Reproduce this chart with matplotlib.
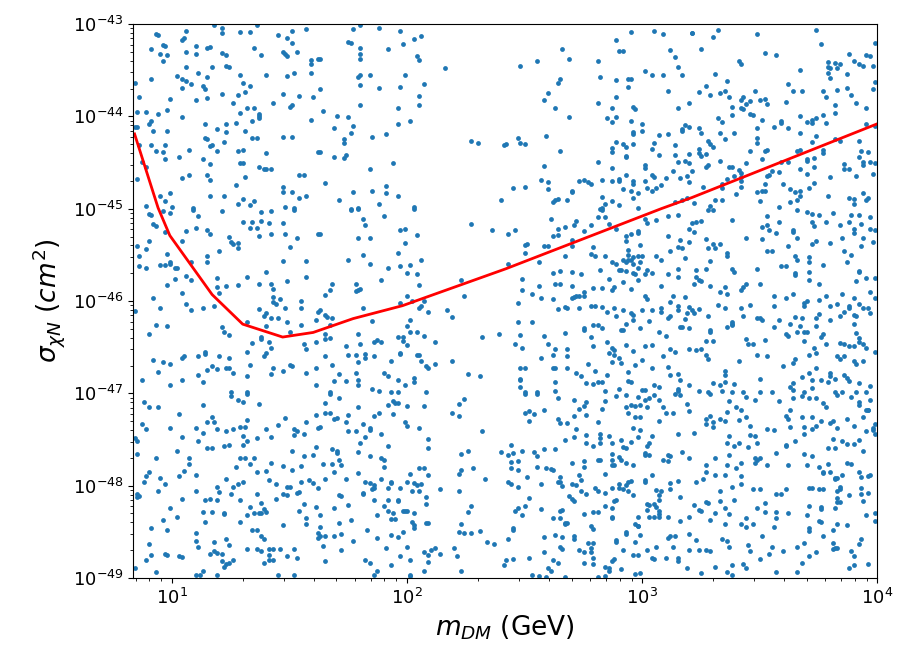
import numpy as np
import matplotlib
matplotlib.use("Agg")
import matplotlib.pyplot as plt

# exclusion curve, log10(m / GeV) and log10(sigma / cm^2)
curve_logm = [0.84, 0.94, 0.99, 1.17, 1.30, 1.47, 1.60, 1.77, 1.98, 2.42, 3.08, 3.21, 4.00]
curve_logs = [-44.19, -44.99, -45.29, -45.93, -46.25, -46.39, -46.34, -46.19, -46.05, -45.65, -45.00, -44.88, -44.08]

# scan points (log10 m, log10 sigma)
pts_top_left = [
    (0.93,-43.11),(0.94,-43.12),(1.06,-43.08),(1.18,-43.01),(1.21,-43.04),(1.21,-43.10),(1.05,-43.15),(1.04,-43.17),
    (1.29,-43.09),(1.33,-43.09),(1.36,-43.01),(1.45,-43.12),(1.51,-43.08),(1.49,-43.15),(1.51,-43.20),(1.57,-43.05),
    (0.91,-43.27),(0.96,-43.23),(0.97,-43.24),(0.95,-43.32),(0.98,-43.33),(0.96,-43.40),(1.06,-43.30),(1.10,-43.24),
    (1.10,-43.32),(1.15,-43.26),(1.16,-43.25),(1.21,-43.31),(1.23,-43.33),(1.35,-43.26),(1.38,-43.33),(1.47,-43.30),
    (1.48,-43.32),(1.49,-43.35),(1.53,-43.30),(1.59,-43.39),(1.59,-43.43),(1.62,-43.38),(1.06,-43.46),(1.17,-43.47),
    (1.23,-43.45),(1.24,-43.47),(1.02,-43.56),(1.04,-43.60),(1.06,-43.62),(1.04,-43.69),(1.08,-43.65),(1.11,-43.53),
    (1.13,-43.67),(1.14,-43.70),(1.15,-43.57),(1.29,-43.55),(1.30,-43.64),(1.33,-43.67),(1.31,-43.74),(1.28,-43.77),
    (1.21,-43.76),(1.15,-43.80),(1.10,-43.82),(0.99,-43.81),(0.86,-43.79),(0.91,-43.60),(1.40,-43.55),(1.49,-43.56),
    (1.52,-43.53),(1.59,-43.53),(0.84,-43.64),(1.47,-43.76),(1.54,-43.78),(1.60,-43.79),(1.43,-43.85),(1.50,-43.90),
    (1.51,-43.88),(1.26,-43.86),(1.32,-43.91),(1.35,-43.91),(1.29,-43.96),(1.37,-43.97),(1.37,-44.00),(0.85,-43.95),
    (0.89,-43.95),(0.94,-43.97),(0.98,-43.93),(1.04,-44.01),(0.84,-44.12),(0.85,-44.12),(0.90,-44.08),(0.91,-44.05),
    (0.92,-44.16),(0.98,-44.16),(1.14,-44.08),(1.19,-44.14),(1.23,-44.08),(1.23,-44.17),(1.27,-44.07),(1.34,-44.05),
    (1.37,-44.02),(1.31,-44.16),(1.34,-44.23),(1.36,-44.23),(1.47,-44.22),(1.51,-44.22),(1.59,-44.04),(1.14,-44.23),
    (1.15,-44.25),(1.17,-44.31),(1.16,-44.32),(1.22,-44.28),(0.86,-44.31),(0.91,-44.31),(0.97,-44.31),(0.93,-44.38),
    (0.96,-44.39),(0.97,-44.46),(0.87,-44.49),(0.89,-44.55),(0.85,-44.68),(1.03,-44.44),(1.07,-44.36),(1.13,-44.46),
    (1.19,-44.38),(1.28,-44.37),(1.30,-44.36),(1.40,-44.40),(1.16,-44.52),(1.29,-44.51),(1.30,-44.51),(1.37,-44.55),
    (1.39,-44.57),(1.40,-44.57),(1.42,-44.57),(1.15,-44.64),(1.16,-44.69),(1.07,-44.64),(1.04,-44.67),(1.31,-44.66),
    (1.54,-44.64),(1.56,-44.63),(1.27,-44.74),(1.47,-44.77),(1.47,-44.82),(1.51,-44.82),(1.54,-44.88),(1.57,-44.86),
    (1.62,-44.39),(0.95,-44.86),(0.97,-44.92),(0.99,-44.83),(0.89,-44.97),(1.00,-44.98),(1.09,-44.99),(1.16,-44.86),
    (1.22,-44.86),(1.28,-44.95),(1.30,-44.89),(1.33,-44.96),(1.35,-44.92),(1.48,-44.98),(1.52,-44.99),
]

pts_top_mid = [
    (1.77,-43.05),(1.80,-43.01),(1.88,-43.04),(1.97,-43.08),(1.75,-43.19),(1.76,-43.20),(1.80,-43.26),(1.92,-43.27),
    (1.98,-43.22),(2.03,-43.16),(2.06,-43.13),(1.80,-43.32),(1.80,-43.38),(2.04,-43.35),(2.05,-43.39),(1.63,-43.38),
    (2.16,-43.48),(1.79,-43.57),(1.80,-43.55),(1.84,-43.55),(1.99,-43.55),(1.80,-43.66),(1.88,-43.69),(1.97,-43.68),
    (2.07,-43.65),(1.63,-43.70),(2.05,-43.78),(2.05,-43.88),(1.80,-43.88),(1.96,-43.91),(1.64,-43.94),(1.70,-44.00),
    (1.75,-44.01),(1.77,-44.10),(1.69,-44.13),(1.76,-44.18),(1.96,-44.08),(2.01,-44.05),(1.85,-44.22),(1.91,-44.19),
    (1.73,-44.25),(1.73,-44.29),(1.63,-44.39),(1.69,-44.44),(1.74,-44.42),(1.73,-44.45),(2.27,-44.27),(2.30,-44.29),
    (2.41,-44.31),(1.94,-44.51),(1.84,-44.57),(1.65,-44.72),(1.77,-44.82),(1.85,-44.81),(1.91,-44.75),(1.91,-44.83),
    (1.96,-44.86),(1.71,-44.91),(1.88,-44.95),(1.76,-45.00),(1.79,-44.99),(2.03,-44.98),(2.40,-44.91),
]

pts_top_right = [
    (2.95,-43.09),(3.05,-43.07),(3.09,-43.11),(3.21,-43.10),(2.89,-43.17),(2.90,-43.29),(2.92,-43.29),(2.66,-43.27),
    (2.69,-43.38),(2.81,-43.40),(2.48,-43.45),(2.55,-43.40),(3.12,-43.28),(3.14,-43.36),(3.15,-43.47),(3.01,-43.51),
    (3.04,-43.55),(3.09,-43.55),(3.17,-43.55),(2.82,-43.57),(2.89,-43.61),(2.94,-43.59),(2.95,-43.60),(2.94,-43.68),
    (2.65,-43.60),(2.64,-43.64),(2.60,-43.75),(2.58,-43.82),(2.63,-43.91),(2.69,-44.01),(3.11,-43.73),(2.89,-43.79),
    (2.81,-43.86),(2.87,-43.91),(2.96,-43.90),(2.97,-43.92),(3.15,-43.91),(3.20,-43.86),(2.85,-44.02),(2.87,-44.06),
    (2.89,-44.01),(2.95,-44.05),(3.00,-44.08),(3.00,-44.16),(2.96,-44.17),(2.96,-44.19),(3.07,-44.20),(3.11,-44.19),
    (3.17,-44.14),(3.17,-44.16),(3.18,-44.09),(3.20,-44.11),(2.47,-44.23),(2.48,-44.29),(2.50,-44.30),(2.42,-44.30),
    (2.59,-44.21),(2.65,-44.37),(2.89,-44.28),(2.92,-44.30),(2.93,-44.33),(2.96,-44.30),(2.87,-44.34),(2.87,-44.39),
    (3.04,-44.35),(3.05,-44.29),(3.07,-44.42),(3.14,-44.31),(3.14,-44.42),(3.15,-44.49),(3.18,-44.48),(3.20,-44.41),
    (2.93,-44.43),(2.93,-44.44),(2.81,-44.49),(2.87,-44.56),(3.01,-44.53),(3.01,-44.56),(3.13,-44.59),(3.20,-44.50),
    (2.58,-44.54),(2.57,-44.69),(2.60,-44.71),(2.60,-44.79),(2.45,-44.78),(2.50,-44.77),(2.73,-44.70),(2.75,-44.69),
    (2.77,-44.71),(2.78,-44.73),(2.83,-44.69),(2.87,-44.70),(2.90,-44.68),(2.90,-44.70),(2.93,-44.63),(2.96,-44.70),
    (2.96,-44.73),(3.01,-44.70),(3.04,-44.64),(3.05,-44.66),(3.08,-44.74),(3.10,-44.67),(3.16,-44.67),(3.19,-44.65),
    (3.20,-44.71),(2.92,-44.79),(2.95,-44.81),(2.98,-44.83),(3.02,-44.78),(3.04,-44.81),(3.06,-44.78),(2.96,-44.88),
    (2.83,-44.87),(2.70,-44.81),(2.70,-44.82),(2.62,-44.93),(2.63,-44.91),(2.64,-44.90),(2.68,-44.91),(2.84,-44.95),
    (2.87,-44.92),(2.90,-44.96),(2.98,-44.99),(3.14,-44.93),(3.17,-44.91),(3.19,-44.88),(2.83,-44.99),(2.82,-45.00),
    (3.21,-43.10),(3.32,-43.06),(3.30,-43.14),(3.49,-43.11),(3.74,-43.06),(3.76,-43.22),(3.25,-43.27),(3.52,-43.31),
    (3.57,-43.33),(3.41,-43.40),(3.42,-43.43),(3.31,-43.54),(3.67,-43.50),(3.79,-43.41),(3.82,-43.42),(3.84,-43.43),
    (3.88,-43.32),(3.90,-43.40),(3.92,-43.43),(3.94,-43.45),(3.95,-43.34),(3.97,-43.35),(3.98,-43.45),(3.99,-43.20),
    (3.79,-43.47),(3.80,-43.48),(3.83,-43.48),(3.80,-43.58),(3.87,-43.54),(3.79,-43.53),(3.36,-43.62),(3.27,-43.67),
    (3.24,-43.74),(3.29,-43.77),(3.33,-43.75),(3.35,-43.72),(3.37,-43.79),(3.43,-43.79),(3.42,-43.82),(3.44,-43.87),
    (3.46,-43.83),(3.48,-43.72),(3.50,-43.82),(3.52,-43.81),(3.53,-43.87),(3.42,-43.91),(3.43,-43.92),(3.38,-43.90),
    (3.38,-43.98),(3.32,-44.02),(3.34,-44.06),(3.46,-43.97),(3.47,-43.99),(3.51,-44.04),(3.62,-43.65),(3.64,-43.73),
    (3.61,-43.84),(3.68,-43.73),(3.77,-43.73),(3.78,-43.79),(3.83,-43.71),(3.87,-43.69),(3.89,-43.77),(3.91,-43.85),
    (3.95,-43.91),(3.98,-43.70),(3.99,-43.63),(3.82,-43.88),(3.82,-43.96),(3.77,-43.98),(3.78,-44.07),(3.74,-44.02),
    (3.67,-44.00),(3.70,-44.06),(3.72,-44.07),(3.72,-44.04),(3.59,-44.07),(3.59,-44.05),(3.56,-44.11),(3.62,-44.13),
    (3.67,-44.18),(3.72,-44.28),(3.74,-44.21),(3.82,-44.25),(3.84,-44.27),(3.92,-44.27),(3.93,-44.37),(3.95,-44.08),
    (3.99,-44.10),(3.24,-44.13),(3.25,-44.18),(3.33,-44.18),(3.35,-44.25),(3.39,-44.18),(3.49,-44.13),(3.49,-44.23),
    (3.49,-44.29),(3.28,-44.27),(3.29,-44.30),(3.30,-44.33),(3.24,-44.35),(3.24,-44.40),(3.25,-44.43),(3.27,-44.41),
    (3.21,-44.59),(3.27,-44.55),(3.28,-44.53),(3.33,-44.48),(3.37,-44.55),(3.38,-44.55),(3.41,-44.58),(3.42,-44.61),
    (3.42,-44.66),(3.44,-44.50),(3.46,-44.38),(3.51,-44.46),(3.52,-44.37),(3.53,-44.36),(3.55,-44.59),(3.53,-44.65),
    (3.59,-44.49),(3.58,-44.60),(3.62,-44.49),(3.66,-44.38),(3.67,-44.36),(3.70,-44.48),(3.70,-44.46),(3.67,-44.57),
    (3.70,-44.62),(3.73,-44.55),(3.73,-44.45),(3.77,-44.40),(3.77,-44.36),(3.80,-44.66),(3.86,-44.52),(3.86,-44.57),
    (3.88,-44.57),(3.91,-44.65),(3.92,-44.44),(3.94,-44.49),(3.94,-44.53),(3.96,-44.39),(3.97,-44.49),(3.98,-44.62),
    (3.99,-44.51),(3.26,-44.76),(3.34,-44.73),(3.34,-44.78),(3.36,-44.68),(3.39,-44.65),(3.42,-44.70),(3.42,-44.77),
    (3.40,-44.84),(3.49,-44.82),(3.51,-44.81),(3.52,-44.81),(3.52,-44.73),(3.54,-44.64),(3.60,-44.73),(3.63,-44.79),
    (3.65,-44.82),(3.67,-44.81),(3.67,-44.86),(3.66,-44.91),(3.71,-44.78),(3.73,-44.72),(3.79,-44.86),(3.88,-44.88),
    (3.90,-44.95),(3.94,-44.83),(3.95,-44.91),(3.96,-44.88),(3.90,-44.89),(3.31,-44.91),(3.34,-44.91),(3.50,-44.92),
    (3.63,-44.93),(3.58,-44.98),(3.29,-44.97),(3.22,-44.94),
]

pts_mid_left = [
    (0.90,-45.06),(0.91,-45.07),(0.96,-45.02),(0.99,-45.05),(1.09,-45.01),(1.11,-45.08),(1.21,-45.03),(1.30,-45.14),
    (1.34,-45.14),(1.38,-45.13),(1.38,-45.04),(1.42,-45.03),(1.52,-45.01),(1.33,-45.21),(1.36,-45.21),(1.41,-45.16),
    (1.42,-45.27),(1.47,-45.16),(1.48,-45.27),(1.53,-45.32),(1.62,-45.27),(0.92,-45.17),(0.93,-45.19),(0.97,-45.25),
    (1.06,-45.24),(1.10,-45.21),(1.15,-45.23),(1.16,-45.27),(1.24,-45.31),(1.25,-45.36),(1.26,-45.38),(1.28,-45.37),
    (1.28,-45.43),(1.37,-45.30),(1.50,-45.41),(0.85,-45.40),(0.90,-45.35),(0.89,-45.44),(1.04,-45.35),(1.20,-45.46),
    (0.86,-45.51),(0.98,-45.49),(1.15,-45.51),(1.15,-45.58),(0.95,-45.61),(0.97,-45.61),(0.99,-45.58),(0.99,-45.60),
    (1.01,-45.64),(1.02,-45.64),(0.86,-45.62),(0.89,-45.64),(1.08,-45.58),(1.47,-45.57),(1.57,-45.57),(1.40,-45.68),
    (1.32,-45.74),(1.06,-45.73),(1.08,-45.77),(1.01,-45.76),(0.98,-45.83),(1.19,-45.75),(1.19,-45.85),(1.20,-45.91),
    (1.23,-45.84),(1.28,-45.83),(1.37,-45.82),(1.42,-45.82),(1.43,-45.87),(1.49,-45.78),(1.57,-45.74),(1.04,-45.91),
    (0.92,-45.97),(0.95,-46.07),(1.06,-46.03),(1.08,-46.10),(1.13,-46.08),(1.18,-46.05),(1.43,-45.96),(1.43,-46.01),
    (1.44,-46.03),(1.46,-45.98),(1.48,-46.08),(1.55,-46.00),(1.55,-46.08),(1.37,-46.09),(1.39,-46.16),(1.40,-46.13),
    (1.42,-46.18),(1.45,-46.18),(0.84,-46.11),(0.93,-46.26),(0.98,-46.27),(0.90,-46.36),(1.21,-46.28),(1.22,-46.33),
    (1.24,-46.37),(1.32,-46.23),(1.40,-46.27),(1.49,-46.23),(1.50,-46.33),(1.55,-46.26),(1.61,-46.20),(1.62,-46.12),
    (1.38,-46.39),(1.38,-46.41),(1.34,-46.45),(1.41,-46.44),(1.42,-46.51),(1.40,-46.56),(1.39,-46.59),(1.56,-46.47),
    (1.57,-46.52),(1.61,-46.44),(1.32,-46.55),(1.33,-46.69),(0.92,-46.64),(0.96,-46.66),(0.99,-46.68),(1.04,-46.62),
    (1.05,-46.60),(1.11,-46.60),(1.14,-46.55),(1.14,-46.57),(1.20,-46.60),(1.24,-46.62),(1.17,-46.70),(1.19,-46.74),
    (1.23,-46.72),(1.24,-46.73),(1.26,-46.78),(1.15,-46.75),(1.11,-46.80),(0.94,-46.77),(0.87,-46.85),(1.04,-46.86),
    (1.13,-46.88),(0.99,-46.91),(1.32,-46.81),(1.42,-46.79),(1.43,-46.73),(1.47,-46.76),(1.50,-46.69),(1.51,-46.70),
    (1.57,-46.78),(1.61,-46.73),(1.61,-46.91),(1.25,-46.99),(1.32,-46.99),
    (1.76,-45.01),(1.79,-45.00),(1.90,-45.08),(2.03,-45.00),(1.81,-45.11),(1.82,-45.18),(1.97,-45.23),(1.99,-45.22),
    (2.04,-45.28),(1.79,-45.32),(1.84,-45.32),(1.99,-45.37),(1.63,-45.27),(1.96,-45.48),(1.81,-45.50),(1.75,-45.56),
    (1.84,-45.60),(1.92,-45.64),(1.97,-45.62),(2.01,-45.61),(2.06,-45.56),(2.00,-45.70),(2.04,-45.71),(1.89,-45.77),
    (2.05,-45.83),(2.27,-45.17),(2.36,-45.23),(2.23,-45.77),(2.24,-45.95),(1.78,-45.81),(1.68,-45.82),(1.67,-45.88),
    (1.65,-45.93),(1.78,-45.89),(1.79,-45.88),(1.80,-45.87),(1.97,-46.02),(2.00,-45.95),(2.02,-46.00),(2.05,-46.08),
    (2.06,-46.05),(2.07,-46.00),(1.81,-46.07),(1.65,-46.15),(1.66,-46.17),(1.68,-46.18),(1.67,-46.26),(1.63,-46.10),
    (1.85,-46.22),(2.01,-46.20),(2.09,-46.12),(2.17,-46.10),(2.19,-46.17),(2.00,-46.27),(2.01,-46.34),(2.04,-46.33),
    (1.65,-46.36),(1.65,-46.41),(1.67,-46.40),(1.79,-46.36),(1.96,-46.39),(1.98,-46.39),(1.98,-46.43),(2.00,-46.48),
    (2.07,-46.38),(2.12,-46.44),(1.86,-46.44),(1.87,-46.42),(1.89,-46.44),(1.80,-46.46),(1.74,-46.49),(1.65,-46.60),
    (1.75,-46.58),(1.78,-46.58),(1.82,-46.57),(1.82,-46.62),(1.79,-46.66),(1.86,-46.60),(1.93,-46.65),(1.97,-46.56),
    (1.97,-46.57),(2.04,-46.58),(2.05,-46.58),(2.06,-46.65),(2.08,-46.70),(2.09,-46.73),(2.12,-46.68),(2.19,-46.65),
    (1.68,-46.69),(1.71,-46.79),(1.69,-46.87),(1.74,-46.87),(1.78,-46.78),(1.79,-46.85),(1.79,-46.91),(1.90,-46.78),
    (1.92,-46.81),(1.96,-46.86),(1.99,-46.91),(2.03,-46.83),(2.03,-46.88),(1.85,-46.95),(1.88,-46.97),(1.93,-46.99),
    (1.96,-46.99),(1.67,-46.99),(2.26,-46.79),(2.31,-46.81),(2.32,-46.39),(2.39,-46.36),(2.08,-46.99),
]

pts_mid_right = [
    (2.83,-45.01),(2.81,-45.09),(2.84,-45.09),(2.72,-45.13),(2.71,-45.18),(2.64,-45.22),(2.67,-45.20),(2.75,-45.24),
    (2.78,-45.18),(2.86,-45.17),(2.61,-45.11),(2.43,-45.27),(2.46,-45.23),(2.50,-45.39),(2.51,-45.38),(2.50,-45.48),
    (2.58,-45.40),(2.60,-45.40),(2.62,-45.30),(2.64,-45.28),(2.70,-45.34),(2.70,-45.40),(2.67,-45.51),(2.79,-45.41),
    (2.78,-45.49),(2.80,-45.51),(2.84,-45.51),(2.89,-45.22),(2.93,-45.30),(2.93,-45.35),(2.95,-45.27),(2.98,-45.24),
    (2.98,-45.26),(2.99,-45.39),(3.01,-45.11),(3.02,-45.15),(3.06,-45.12),(3.11,-45.08),(3.15,-45.07),(3.20,-45.22),
    (3.11,-45.30),(3.16,-45.34),(3.15,-45.41),(3.17,-45.43),(3.20,-45.36),(2.94,-45.45),(2.94,-45.50),(2.96,-45.52),
    (2.98,-45.51),(3.00,-45.51),(2.92,-45.56),(2.93,-45.58),(2.94,-45.56),(2.95,-45.55),(2.96,-45.60),(2.98,-45.64),
    (2.99,-45.58),(2.87,-45.58),(2.89,-45.60),(2.90,-45.66),(2.91,-45.66),(2.93,-45.67),(2.96,-45.70),(2.97,-45.71),
    (3.02,-45.66),(3.06,-45.51),(3.08,-45.56),(3.12,-45.46),(3.18,-45.53),(2.56,-45.58),(2.43,-45.60),(2.62,-45.70),
    (2.65,-45.67),(2.70,-45.69),(2.74,-45.71),(2.82,-45.66),(2.86,-45.76),(2.92,-45.79),(2.88,-45.85),(2.87,-45.88),
    (2.83,-45.86),(2.79,-45.86),(2.75,-45.90),(2.72,-45.94),(2.73,-45.94),(2.75,-45.95),(2.70,-45.97),(2.71,-45.96),
    (2.70,-45.84),(2.65,-45.82),(2.63,-45.81),(2.56,-45.84),(2.53,-45.92),(2.49,-45.88),(2.49,-45.76),(2.47,-46.02),
    (2.57,-45.97),(2.62,-45.98),(2.67,-46.06),(2.68,-46.08),(2.73,-46.07),(2.78,-46.05),(2.80,-46.05),(2.83,-46.06),
    (2.85,-46.12),(2.88,-46.08),(2.89,-46.16),(2.92,-46.10),(2.95,-46.13),(2.96,-46.15),(2.95,-45.87),(2.98,-45.77),
    (3.01,-45.71),(3.04,-45.70),(3.01,-45.95),(3.02,-45.98),(3.08,-45.84),(3.11,-45.71),(3.15,-45.65),(3.15,-45.74),
    (3.13,-45.95),(3.15,-46.05),(3.15,-46.10),(3.18,-45.96),(3.20,-46.06),(3.19,-46.13),(3.12,-46.01),(3.08,-46.07),
    (3.08,-46.12),(3.04,-46.10),(3.00,-46.10),(2.96,-46.20),(2.93,-46.25),(2.91,-46.31),(2.92,-46.31),(2.99,-46.29),
    (3.03,-46.22),(3.11,-46.18),(3.12,-46.16),(3.16,-46.28),(3.17,-46.28),(3.18,-46.19),(3.20,-46.29),(3.07,-46.34),
    (3.10,-46.38),(2.47,-46.23),(2.53,-46.23),(2.48,-46.37),(2.58,-46.38),(2.46,-46.47),(2.49,-46.51),(2.60,-46.46),
    (2.63,-46.52),(2.64,-46.09),(2.67,-46.35),(2.68,-46.52),(2.68,-46.59),(2.62,-46.58),(2.79,-46.26),(2.81,-46.26),
    (2.83,-46.29),(2.78,-46.39),(2.75,-46.29),(2.75,-46.31),(2.79,-46.49),(2.85,-46.44),(2.87,-46.51),(2.88,-46.53),
    (2.86,-46.56),(2.88,-46.58),(2.90,-46.62),(2.93,-46.48),(2.96,-46.54),(3.01,-46.49),(3.04,-46.48),(3.09,-46.59),
    (3.12,-46.52),(3.14,-46.55),(3.20,-46.52),(2.57,-46.62),(2.62,-46.73),(2.63,-46.72),(2.68,-46.72),(2.72,-46.78),
    (2.74,-46.81),(2.77,-46.68),(2.80,-46.76),(2.85,-46.80),(2.87,-46.66),(2.91,-46.67),(2.94,-46.77),(2.97,-46.69),
    (3.00,-46.64),(3.04,-46.73),(3.11,-46.71),(3.12,-46.80),(3.15,-46.79),(3.16,-46.85),(3.20,-46.91),(2.48,-46.73),
    (2.50,-46.72),(2.48,-46.84),(2.48,-46.86),(2.48,-46.93),(2.63,-46.88),(2.76,-46.89),(2.79,-46.90),(2.81,-46.88),
    (2.83,-46.88),(2.84,-46.97),(2.90,-46.95),(2.94,-46.87),(2.95,-46.88),(3.00,-46.96),(3.01,-46.96),(3.05,-46.91),
    (3.07,-46.93),(3.15,-46.95),(3.15,-46.97),(2.63,-46.97),(2.55,-46.99),(2.50,-46.99),
    (3.21,-45.16),(3.23,-45.14),(3.25,-45.13),(3.22,-45.25),(3.28,-45.01),(3.30,-45.01),(3.38,-45.12),(3.53,-45.08),
    (3.51,-45.20),(3.53,-45.18),(3.54,-45.23),(3.57,-45.26),(3.58,-45.14),(3.64,-45.25),(3.64,-45.23),(3.66,-45.01),
    (3.70,-45.04),(3.72,-45.06),(3.75,-45.07),(3.72,-45.14),(3.73,-45.19),(3.78,-45.14),(3.81,-45.05),(3.84,-45.18),
    (3.89,-45.07),(3.92,-45.07),(3.88,-45.14),(3.93,-45.17),(3.90,-45.22),(3.90,-45.26),(3.94,-45.32),(3.97,-45.09),
    (3.97,-45.22),(3.99,-45.23),(3.98,-45.36),(3.27,-45.33),(3.30,-45.38),(3.33,-45.38),(3.31,-45.42),(3.28,-45.43),
    (3.44,-45.32),(3.51,-45.33),(3.55,-45.46),(3.53,-45.46),(3.62,-45.40),(3.66,-45.32),(3.74,-45.35),(3.72,-45.38),
    (3.80,-45.37),(3.85,-45.32),(3.93,-45.40),(3.36,-45.48),(3.36,-45.51),(3.29,-45.57),(3.23,-45.66),(3.27,-45.65),
    (3.38,-45.65),(3.39,-45.69),(3.49,-45.65),(3.59,-45.62),(3.61,-45.62),(3.65,-45.51),(3.66,-45.56),(3.71,-45.52),
    (3.71,-45.58),(3.71,-45.69),(3.71,-45.77),(3.65,-45.70),(3.65,-45.72),(3.77,-45.61),(3.86,-45.46),(3.89,-45.50),
    (3.87,-45.58),(3.92,-45.67),(3.92,-45.69),(3.95,-45.75),(3.99,-45.75),(3.23,-45.74),(3.24,-45.77),(3.25,-45.78),
    (3.22,-45.81),(3.29,-45.84),(3.33,-45.90),(3.35,-45.85),(3.36,-45.92),(3.42,-45.88),(3.44,-45.82),(3.43,-45.85),
    (3.50,-45.81),(3.56,-45.94),(3.56,-46.05),(3.61,-45.97),(3.64,-45.92),(3.69,-46.05),(3.69,-46.02),(3.70,-46.00),
    (3.75,-45.99),(3.78,-45.95),(3.75,-45.82),(3.85,-45.92),(3.91,-45.78),(3.97,-45.90),(3.99,-45.97),(3.83,-46.03),
    (3.80,-46.05),(3.88,-46.08),(3.88,-46.05),(3.90,-45.97),(3.92,-46.03),(3.94,-46.08),(3.96,-46.07),(3.97,-46.13),
    (3.90,-46.15),(3.91,-46.16),(3.32,-46.04),(3.35,-46.08),(3.21,-46.10),(3.22,-46.13),(3.24,-46.09),(3.28,-46.16),
    (3.38,-46.23),(3.38,-46.26),(3.42,-46.08),(3.43,-46.16),(3.46,-46.04),(3.49,-46.18),(3.50,-46.18),(3.51,-46.21),
    (3.56,-46.28),(3.58,-46.21),(3.61,-46.36),(3.62,-46.38),(3.63,-46.25),(3.65,-46.17),(3.68,-46.18),(3.67,-46.27),
    (3.66,-46.33),(3.69,-46.34),(3.70,-46.33),(3.74,-46.27),(3.74,-46.18),(3.75,-46.14),(3.80,-46.21),(3.84,-46.16),
    (3.86,-46.12),(3.90,-46.25),(3.91,-46.35),(3.92,-46.40),(3.92,-46.44),(3.86,-46.47),(3.88,-46.49),(3.84,-46.45),
    (3.90,-46.49),(3.94,-46.46),(3.95,-46.51),(3.99,-46.55),(3.76,-46.39),(3.77,-46.36),(3.78,-46.47),(3.69,-46.43),
    (3.73,-46.51),(3.74,-46.56),(3.71,-46.58),(3.29,-46.31),(3.29,-46.33),(3.36,-46.28),(3.38,-46.25),(3.27,-46.43),
    (3.30,-46.43),(3.23,-46.53),(3.25,-46.52),(3.27,-46.58),(3.28,-46.63),(3.44,-46.41),(3.45,-46.46),(3.47,-46.47),
    (3.52,-46.42),(3.49,-46.58),(3.53,-46.59),(3.60,-46.70),(3.64,-46.67),(3.65,-46.63),(3.83,-46.60),(3.84,-46.63),
    (3.86,-46.59),(3.90,-46.65),(3.91,-46.68),(3.94,-46.65),(3.41,-46.65),(3.35,-46.76),(3.35,-46.80),(3.30,-46.89),
    (3.33,-46.91),(3.35,-46.88),(3.39,-46.90),(3.50,-46.84),(3.63,-46.93),(3.64,-46.89),(3.68,-46.82),(3.71,-46.78),
    (3.72,-46.85),(3.74,-46.73),(3.76,-46.86),(3.80,-46.78),(3.80,-46.81),(3.79,-46.88),(3.82,-46.84),(3.86,-46.80),
    (3.87,-46.83),(3.88,-46.87),(3.92,-46.89),(3.97,-46.92),(3.24,-46.97),(3.28,-46.99),(3.34,-46.97),(3.38,-46.99),
    (3.43,-46.99),(3.50,-46.99),(3.55,-46.99),(3.64,-46.96),(3.69,-46.98),(3.72,-46.94),(3.82,-46.98),(3.85,-46.99),
    (3.91,-46.98),(3.95,-46.99),
]

pts_low_left = [
    (0.88,-47.09),(0.90,-47.15),(0.94,-47.15),(1.13,-47.13),(1.25,-47.03),(1.28,-47.07),(1.30,-47.09),(1.32,-47.01),
    (1.37,-47.11),(1.03,-47.22),(0.87,-47.33),(0.89,-47.39),(0.99,-47.38),(1.10,-47.38),(1.13,-47.43),(1.15,-47.31),
    (1.17,-47.26),(1.18,-47.31),(1.19,-47.39),(1.23,-47.41),(1.26,-47.39),(1.29,-47.36),(1.31,-47.36),(1.32,-47.29),
    (1.40,-47.39),(1.45,-47.34),(1.48,-47.27),(1.52,-47.39),(1.53,-47.41),(1.57,-47.31),(1.61,-47.23),(1.52,-47.45),
    (1.56,-47.44),(0.84,-47.48),(0.85,-47.52),(1.04,-47.47),(1.11,-47.52),(1.15,-47.59),(1.17,-47.59),(1.22,-47.57),
    (1.24,-47.56),(1.30,-47.46),(1.32,-47.52),(1.30,-47.56),(1.36,-47.48),(1.42,-47.47),(1.51,-47.62),(0.85,-47.66),
    (0.93,-47.70),(1.02,-47.62),(1.07,-47.70),(1.07,-47.76),(1.05,-47.84),(1.03,-47.89),(1.10,-47.88),(1.27,-47.80),
    (1.29,-47.70),(1.31,-47.70),(1.33,-47.76),(1.35,-47.70),(1.36,-47.85),(1.40,-47.84),(1.42,-47.75),(1.47,-47.79),
    (1.51,-47.83),(1.55,-47.79),(1.56,-47.68),(1.61,-47.58),(1.60,-47.67),(1.62,-47.37),(0.89,-47.90),(0.90,-47.85),
    (0.88,-47.96),(0.95,-47.92),(0.97,-47.98),(0.94,-48.06),(0.85,-48.09),(0.86,-48.11),(0.85,-48.12),(1.10,-48.06),
    (1.14,-48.15),(1.16,-48.14),(1.19,-48.01),(1.19,-48.15),(1.20,-48.07),(1.23,-47.93),(1.25,-48.09),(1.26,-48.01),
    (1.28,-47.98),(1.30,-47.96),(1.29,-48.15),(1.36,-48.09),(1.41,-47.94),(1.44,-47.98),(1.44,-48.14),(1.47,-48.09),
    (1.49,-48.01),(1.50,-48.01),(1.49,-48.10),(1.53,-48.08),(1.54,-48.07),(1.55,-47.96),(1.58,-47.94),(1.60,-47.97),
    (1.62,-48.02),(1.56,-48.20),(1.54,-48.27),(1.57,-48.35),(1.57,-48.41),(1.61,-48.23),(1.62,-48.51),(1.04,-48.14),
    (0.99,-48.24),(1.02,-48.34),(0.96,-48.37),(0.91,-48.46),(0.98,-48.48),(1.13,-48.28),(1.14,-48.39),(1.17,-48.29),
    (1.22,-48.30),(1.22,-48.31),(1.29,-48.39),(1.32,-48.32),(1.33,-48.23),(1.35,-48.30),(1.37,-48.30),(1.38,-48.19),
    (1.39,-48.25),(1.40,-48.28),(1.38,-48.30),(1.34,-48.48),(1.36,-48.48),(1.38,-48.54),(1.39,-48.58),(1.47,-48.43),
    (1.10,-48.51),(1.10,-48.60),(1.18,-48.61),(1.23,-48.58),(1.24,-48.64),(0.90,-48.63),(0.89,-48.81),(0.91,-48.75),
    (0.97,-48.74),(0.98,-48.75),(1.03,-48.76),(1.04,-48.77),(1.11,-48.66),(1.16,-48.74),(1.18,-48.71),(1.19,-48.73),
    (1.21,-48.74),(1.21,-48.82),(1.23,-48.85),(1.22,-48.88),(1.24,-48.84),(1.26,-48.80),(1.32,-48.69),(1.36,-48.69),
    (1.38,-48.71),(1.41,-48.69),(1.43,-48.69),(1.46,-48.69),(1.41,-48.75),(1.41,-48.81),(1.39,-48.84),(1.43,-48.81),
    (1.49,-48.76),(1.52,-48.69),(1.53,-48.78),(1.62,-48.57),(0.84,-48.89),(0.93,-48.94),(1.10,-48.97),(1.12,-48.97),
    (1.13,-48.92),(1.19,-48.97),(1.45,-48.97),(1.52,-48.97),
    (1.67,-47.01),(1.71,-47.05),(1.65,-47.10),(1.65,-47.21),(1.67,-47.21),(1.63,-47.36),(1.69,-47.28),(1.70,-47.27),
    (1.75,-47.23),(1.74,-47.31),(1.79,-47.15),(1.86,-47.25),(1.88,-47.21),(1.92,-47.13),(1.94,-47.22),(1.94,-47.08),
    (1.95,-47.10),(1.96,-47.10),(2.00,-47.14),(2.07,-47.14),(1.99,-47.31),(2.00,-47.35),(2.05,-47.38),(2.09,-47.49),
    (2.09,-47.59),(1.89,-47.44),(1.92,-47.57),(1.84,-47.40),(1.84,-47.37),(1.82,-47.47),(1.81,-47.33),(1.78,-47.41),
    (1.75,-47.41),(1.80,-47.54),(1.79,-47.64),(1.84,-47.68),(1.90,-47.72),(1.89,-47.70),(1.90,-47.80),(1.68,-47.60),
    (1.70,-47.62),(1.70,-47.65),(1.71,-47.72),(1.64,-47.76),(1.68,-47.77),(1.72,-47.78),(1.69,-47.85),(1.65,-47.93),
    (1.74,-47.93),(1.79,-47.86),(1.82,-47.96),(1.84,-47.97),(1.86,-47.99),(1.86,-48.03),(1.85,-48.04),(1.81,-48.08),
    (1.81,-48.09),(1.89,-47.93),(1.92,-48.02),(1.93,-47.96),(1.93,-47.97),(1.97,-48.02),(2.00,-47.96),(2.01,-47.87),
    (2.03,-47.97),(2.04,-47.99),(2.06,-47.98),(2.02,-48.06),(2.05,-48.06),(2.05,-47.81),(2.07,-47.81),(2.09,-47.88),
    (2.14,-48.04),(2.08,-48.12),(1.86,-48.16),(1.92,-48.16),(1.96,-48.16),(1.96,-48.17),(1.98,-48.27),(1.99,-48.27),
    (2.00,-48.27),(1.90,-48.22),(1.92,-48.27),(1.94,-48.30),(2.03,-48.30),(2.08,-48.20),(1.71,-48.10),(1.72,-48.11),
    (1.75,-48.21),(1.69,-48.24),(1.63,-48.32),(1.71,-48.40),(1.76,-48.37),(1.83,-48.48),(1.87,-48.32),(1.93,-48.36),
    (1.95,-48.36),(2.02,-48.39),(2.03,-48.43),(2.03,-48.46),(2.08,-48.40),(2.09,-48.40),(1.98,-48.50),(1.93,-48.53),
    (1.96,-48.56),(2.00,-48.66),(1.97,-48.76),(2.01,-48.80),(2.07,-48.72),(2.09,-48.75),(2.10,-48.70),(2.12,-48.67),
    (2.09,-48.83),(2.14,-48.74),(1.63,-48.45),(1.63,-48.54),(1.65,-48.55),(1.64,-48.65),(1.69,-48.55),(1.72,-48.52),
    (1.72,-48.70),(1.77,-48.60),(1.87,-48.57),(1.91,-48.68),(1.65,-48.82),(1.82,-48.81),(1.84,-48.84),(1.87,-48.92),
    (1.86,-48.97),(1.93,-48.86),(2.01,-48.97),(2.01,-48.98),(2.07,-48.92),(2.20,-48.67),(2.21,-48.76),(2.23,-48.92),
    (2.22,-48.50),(2.24,-48.51),(2.27,-48.51),(2.31,-48.49),(2.23,-48.42),(2.26,-48.29),(2.27,-48.22),(2.22,-48.06),
    (2.22,-47.87),(2.23,-47.83),(2.28,-47.81),(2.33,-47.93),(2.23,-47.66),(2.26,-47.62),(2.32,-47.41),(2.40,-47.64),
    (2.19,-47.21),(2.22,-47.24),(2.22,-47.12),(2.24,-47.06),(2.34,-48.61),(2.37,-48.63),(2.41,-48.86),
]

pts_low_right = [
    (2.50,-47.01),(2.55,-47.01),(2.64,-47.05),(2.71,-47.07),(2.76,-47.09),(2.84,-47.08),(2.89,-47.03),(2.93,-47.02),
    (2.98,-47.04),(3.01,-47.07),(3.03,-47.05),(3.05,-47.02),(3.07,-47.07),(3.14,-47.01),(3.16,-47.02),(3.19,-47.12),
    (2.93,-47.15),(2.95,-47.13),(2.97,-47.14),(2.99,-47.13),(2.94,-47.21),(2.97,-47.26),(2.99,-47.26),(3.02,-47.15),
    (3.09,-47.15),(3.10,-47.21),(3.13,-47.21),(3.07,-47.30),(3.15,-47.44),(3.20,-47.19),(2.50,-47.21),(2.52,-47.19),
    (2.54,-47.22),(2.52,-47.30),(2.58,-47.18),(2.64,-47.28),(2.65,-47.32),(2.68,-47.32),(2.71,-47.25),(2.73,-47.17),
    (2.75,-47.14),(2.76,-47.23),(2.81,-47.31),(2.83,-47.17),(2.82,-47.44),(2.82,-47.48),(2.72,-47.39),(2.71,-47.47),
    (2.67,-47.50),(2.76,-47.45),(2.76,-47.54),(2.79,-47.57),(2.82,-47.54),(2.86,-47.46),(2.87,-47.54),(2.91,-47.51),
    (2.92,-47.58),(2.93,-47.59),(2.95,-47.53),(2.96,-47.37),(2.99,-47.40),(2.98,-47.47),(3.04,-47.46),(3.03,-47.54),
    (3.02,-47.57),(3.01,-47.65),(3.01,-47.67),(3.03,-47.67),(3.11,-47.67),(3.12,-47.68),(3.09,-47.72),(3.11,-47.73),
    (3.17,-47.64),(3.20,-47.70),(2.44,-47.56),(2.43,-47.67),(2.45,-47.65),(2.44,-47.74),(2.47,-47.73),(2.44,-47.81),
    (2.47,-47.83),(2.49,-47.62),(2.54,-47.64),(2.55,-47.68),(2.58,-47.60),(2.63,-47.60),(2.55,-47.80),(2.59,-47.81),
    (2.61,-47.82),(2.62,-47.83),(2.70,-47.75),(2.75,-47.73),(2.75,-47.80),(2.81,-47.72),(2.82,-47.72),(2.87,-47.66),
    (2.87,-47.72),(2.90,-47.69),(2.91,-47.72),(2.93,-47.75),(2.96,-47.78),(2.87,-47.78),(2.88,-47.78),(2.43,-47.96),
    (2.44,-47.98),(2.47,-48.01),(2.51,-47.91),(2.57,-47.98),(2.64,-47.96),(2.65,-47.96),(2.66,-48.00),(2.65,-47.91),
    (2.70,-47.98),(2.73,-47.88),(2.74,-47.94),(2.72,-47.99),(2.74,-48.06),(2.76,-48.09),(2.80,-48.02),(2.81,-48.06),
    (2.84,-47.87),(2.84,-48.08),(2.87,-48.03),(2.90,-47.98),(2.90,-48.03),(2.92,-48.04),(2.93,-47.99),(2.94,-47.96),
    (2.95,-47.95),(2.94,-48.06),(2.96,-48.10),(3.01,-47.94),(3.01,-47.96),(3.04,-47.88),(3.08,-48.06),(3.06,-48.05),
    (3.07,-48.10),(3.07,-48.16),(3.12,-47.97),(3.12,-48.04),(3.15,-47.95),(3.16,-48.12),(2.47,-48.24),(2.50,-48.22),
    (2.49,-48.32),(2.46,-48.27),(2.52,-48.13),(2.57,-48.25),(2.62,-48.35),(2.65,-48.27),(2.66,-48.26),(2.65,-48.35),
    (2.67,-48.40),(2.68,-48.40),(2.67,-48.42),(2.69,-48.11),(2.70,-48.14),(2.71,-48.17),(2.75,-48.31),(2.79,-48.29),
    (2.81,-48.28),(2.84,-48.22),(2.87,-48.24),(2.88,-48.17),(2.89,-48.15),(2.87,-48.34),(2.87,-48.35),(2.98,-48.34),
    (2.98,-48.44),(3.02,-48.20),(3.03,-48.21),(3.05,-48.20),(3.06,-48.23),(3.07,-48.27),(3.02,-48.26),(3.03,-48.34),
    (3.05,-48.34),(3.07,-48.31),(3.07,-48.34),(3.11,-48.34),(3.16,-48.38),(3.20,-48.34),(2.45,-48.46),(2.45,-48.48),
    (2.43,-48.58),(2.58,-48.56),(2.58,-48.72),(2.63,-48.53),(2.66,-48.56),(2.71,-48.54),(2.71,-48.58),(2.78,-48.44),
    (2.79,-48.47),(2.77,-48.62),(2.79,-48.62),(2.78,-48.68),(2.73,-48.70),(2.75,-48.72),(2.78,-48.72),(2.79,-48.78),
    (2.79,-48.85),(2.75,-48.84),(2.65,-48.66),(2.66,-48.69),(2.62,-48.80),(2.60,-48.89),(2.61,-48.92),(2.64,-48.84),
    (2.45,-48.79),(2.42,-48.80),(2.52,-48.78),(2.56,-48.98),(2.53,-48.97),(2.59,-48.99),(2.81,-48.99),(2.84,-48.88),
    (2.86,-48.89),(2.86,-48.92),(2.87,-48.82),(2.88,-48.79),(2.89,-48.59),(2.89,-48.61),(2.92,-48.70),(2.93,-48.50),
    (2.93,-48.52),(2.97,-48.61),(2.97,-48.42),(2.98,-48.44),(2.99,-48.53),(2.96,-48.75),(2.98,-48.75),(3.02,-48.70),
    (3.04,-48.78),(3.05,-48.79),(3.06,-48.66),(3.11,-48.57),(3.12,-48.55),(3.14,-48.54),(3.13,-48.66),(3.10,-48.78),
    (3.15,-48.78),(3.15,-48.82),(3.20,-48.70),(3.19,-48.89),(3.20,-48.52),(2.97,-48.96),(2.99,-48.95),(2.91,-48.90),
    (2.84,-48.98),(2.67,-48.99),
    (3.29,-47.01),(3.37,-47.08),(3.44,-47.04),(3.48,-47.07),(3.58,-47.08),(3.64,-47.05),(3.63,-47.18),(3.68,-47.03),
    (3.71,-47.05),(3.74,-47.05),(3.77,-47.10),(3.78,-47.15),(3.83,-47.02),(3.89,-47.04),(3.92,-47.09),(3.92,-47.13),
    (3.95,-47.18),(3.96,-47.18),(3.97,-47.07),(3.99,-47.33),(3.98,-47.40),(3.99,-47.44),(3.27,-47.28),(3.27,-47.33),
    (3.29,-47.25),(3.30,-47.31),(3.30,-47.36),(3.33,-47.28),(3.35,-47.30),(3.36,-47.20),(3.40,-47.15),(3.42,-47.18),
    (3.41,-47.29),(3.44,-47.26),(3.46,-47.35),(3.53,-47.39),(3.56,-47.40),(3.61,-47.24),(3.62,-47.28),(3.63,-47.36),
    (3.68,-47.26),(3.72,-47.26),(3.69,-47.36),(3.72,-47.39),(3.74,-47.35),(3.76,-47.30),(3.80,-47.32),(3.81,-47.30),
    (3.83,-47.37),(3.87,-47.28),(3.90,-47.35),(3.94,-47.26),(3.96,-47.18),(3.22,-47.43),(3.37,-47.46),(3.36,-47.54),
    (3.39,-47.57),(3.41,-47.54),(3.45,-47.58),(3.46,-47.45),(3.48,-47.46),(3.49,-47.54),(3.57,-47.65),(3.61,-47.57),
    (3.61,-47.56),(3.65,-47.52),(3.69,-47.44),(3.69,-47.66),(3.72,-47.68),(3.79,-47.59),(3.82,-47.59),(3.81,-47.49),
    (3.85,-47.52),(3.87,-47.55),(3.90,-47.55),(3.92,-47.50),(3.94,-47.62),(3.95,-47.41),(3.98,-47.38),(3.31,-47.70),
    (3.27,-47.78),(3.27,-47.85),(3.36,-47.78),(3.37,-47.67),(3.40,-47.81),(3.42,-47.75),(3.48,-47.70),(3.48,-47.75),
    (3.49,-47.72),(3.50,-47.70),(3.53,-47.78),(3.62,-47.78),(3.70,-47.78),(3.75,-47.80),(3.77,-47.85),(3.77,-47.86),
    (3.79,-47.77),(3.80,-47.85),(3.82,-47.92),(3.83,-47.92),(3.87,-47.75),(3.89,-47.77),(3.92,-47.85),(3.93,-47.91),
    (3.96,-47.90),(3.97,-47.88),(3.23,-47.96),(3.26,-47.93),(3.31,-47.88),(3.35,-47.88),(3.42,-47.90),(3.42,-47.98),
    (3.38,-48.01),(3.47,-48.04),(3.50,-48.04),(3.57,-48.09),(3.59,-48.09),(3.61,-48.04),(3.71,-48.02),(3.72,-48.02),
    (3.75,-48.04),(3.77,-48.04),(3.82,-47.93),(3.84,-48.01),(3.84,-48.04),(3.83,-48.06),(3.88,-48.10),(3.83,-48.13),
    (3.83,-48.18),(3.84,-48.18),(3.82,-48.24),(3.71,-48.22),(3.76,-48.23),(3.76,-48.25),(3.93,-48.09),(3.96,-48.08),
    (3.33,-48.06),(3.33,-48.17),(3.39,-48.16),(3.27,-48.18),(3.28,-48.19),(3.22,-48.21),(3.24,-48.26),(3.25,-48.27),
    (3.31,-48.30),(3.35,-48.24),(3.37,-48.31),(3.35,-48.42),(3.29,-48.37),(3.44,-48.35),(3.44,-48.45),(3.49,-48.24),
    (3.52,-48.19),(3.52,-48.29),(3.57,-48.28),(3.57,-48.35),(3.62,-48.30),(3.70,-48.32),(3.75,-48.38),(3.76,-48.39),
    (3.83,-48.42),(3.87,-48.43),(3.81,-48.48),(3.77,-48.54),(3.71,-48.46),(3.71,-48.49),(3.56,-48.45),(3.51,-48.55),
    (3.42,-48.42),(3.47,-48.42),(3.23,-48.59),(3.24,-48.70),(3.27,-48.70),(3.29,-48.71),(3.34,-48.58),(3.36,-48.60),
    (3.37,-48.66),(3.45,-48.64),(3.46,-48.71),(3.55,-48.66),(3.54,-48.74),(3.50,-48.79),(3.60,-48.71),(3.66,-48.66),
    (3.69,-48.62),(3.74,-48.72),(3.81,-48.62),(3.82,-48.67),(3.81,-48.69),(3.83,-48.68),(3.89,-48.71),(3.92,-48.63),
    (3.93,-48.58),(3.90,-48.76),(3.90,-48.86),(3.88,-48.89),(3.96,-48.85),(3.31,-48.88),(3.38,-48.86),(3.25,-48.95),
    (3.36,-48.94),(3.38,-48.97),(3.43,-48.85),(3.44,-48.89),(3.57,-48.93),(3.66,-48.94),(3.68,-48.84),(3.71,-48.76),
    (3.99,-48.30),(3.99,-48.38),(3.95,-48.32),(3.94,-48.17),(3.93,-48.03),(3.85,-47.88),
]

all_pts = np.array(pts_top_left + pts_top_mid + pts_top_right + pts_mid_left
                   + pts_mid_right + pts_low_left + pts_low_right)
mass = 10 ** all_pts[:, 0]
sigma = 10 ** all_pts[:, 1]

fig = plt.figure(figsize=(9.12, 6.69), dpi=100)
ax = fig.add_axes([0.146, 0.136, 0.816, 0.828])

ax.scatter(mass, sigma, s=12, color='tab:blue', linewidths=0)
ax.plot(10 ** np.array(curve_logm), 10 ** np.array(curve_logs), color='red', lw=2)

ax.set_xscale('log')
ax.set_yscale('log')
ax.set_xlim(10 ** 0.834, 1e4)
ax.set_ylim(1e-49, 1e-43)
ax.tick_params(labelsize=13)
ax.set_xlabel(r'$m_{DM}$ (GeV)', fontsize=19)
ax.set_ylabel(r'$\sigma_{\chi N}$ $(cm^2)$', fontsize=19)

fig.savefig('out.png', dpi=100)
